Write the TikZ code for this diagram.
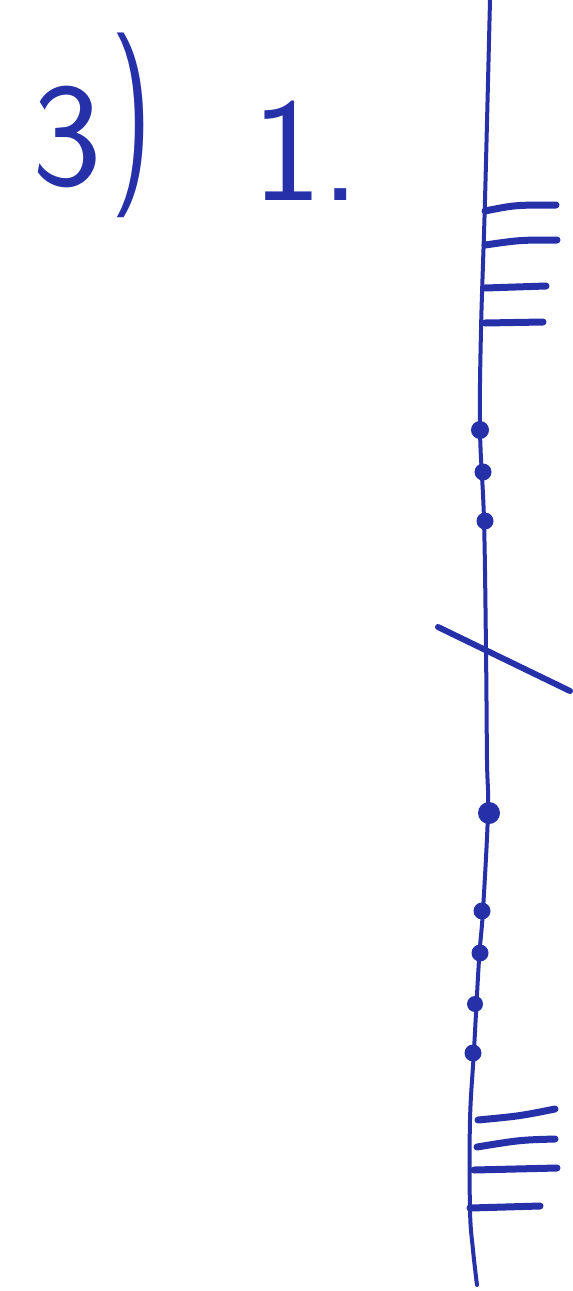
\documentclass[tikz,border=0pt]{standalone}
\usepackage{graphicx}
\begin{document}
\begin{tikzpicture}[x=1pt,y=-1pt,
  ink/.style={draw=inkblue,line cap=round,line join=round},
  axisline/.style={ink,line width=4pt},
  tickline/.style={ink,line width=7pt},
  dotmark/.style={fill=inkblue,draw=none},
  hand/.style={text=inkblue,inner sep=0pt,font=\sffamily\fontsize{148}{148}\selectfont}]
\definecolor{inkblue}{RGB}{38,48,168}
\useasboundingbox[fill=white] (0,0) rectangle (573,1291);
% label
\node[hand,anchor=base west] (lbl) at (32,185) {3\hspace{10pt}\raisebox{14pt}{\scalebox{0.75}[1.25]{)}}};
\node[hand,anchor=base west] (num) at (252,200) {1.};
% main line
\draw[axisline] plot[smooth,tension=0.6] coordinates {(490,0) (485,200) (481,330) (480,430) (484,520) (486,650) (487,760) (488,812) (483,910) (479,960) (474,1050) (470,1120) (470,1210) (473,1250) (477,1285)};
% top ticks
\draw[tickline] (485,211) .. controls (515,205) .. (556,205);
\draw[tickline] (485,245) .. controls (520,240) .. (557,240);
\draw[tickline] (485,288) -- (546,286);
\draw[tickline] (485,323) -- (543,322);
% upper dots
\fill[dotmark] (480,430) circle (9pt);
\fill[dotmark] (483,472) circle (8.5pt);
\fill[dotmark] (485,521) circle (8.5pt);
% slash
\draw[ink,line width=6pt] (438,627) -- (570,691);
% lower dots
\fill[dotmark] (489,813) circle (11pt);
\fill[dotmark] (482,911) circle (8.5pt);
\fill[dotmark] (480,953) circle (8.5pt);
\fill[dotmark] (475,1004) circle (8pt);
\fill[dotmark] (473,1053) circle (8.5pt);
% bottom ticks
\draw[tickline] (478,1120) .. controls (520,1116) .. (555,1109);
\draw[tickline] (477,1147) .. controls (520,1140) .. (555,1139);
\draw[tickline] (474,1170) -- (557,1168);
\draw[tickline] (470,1208) -- (540,1206);
\end{tikzpicture}
\end{document}
